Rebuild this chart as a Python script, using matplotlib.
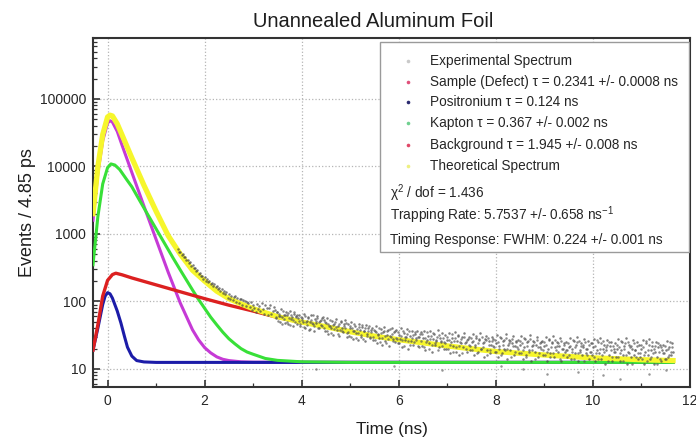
import numpy as np
import matplotlib
matplotlib.use("Agg")
import matplotlib.pyplot as plt
from matplotlib.ticker import FixedLocator, LogLocator, NullFormatter
from matplotlib.patches import Rectangle

plt.rcParams["font.family"] = ["Liberation Sans", "DejaVu Sans"]
plt.rcParams["mathtext.fontset"] = "custom"
plt.rcParams["mathtext.rm"] = "Liberation Sans"
plt.rcParams["mathtext.it"] = "Liberation Sans:italic"
plt.rcParams["mathtext.default"] = "regular"

## Fitted components (time in ns, events per 4.85 ps bin)
sample_t = [-0.3, -0.2, -0.1, 0.0, 0.05, 0.1, 0.2, 0.3, 0.5, 0.75, 1.0, 1.25, 1.5, 1.75, 1.875,
            2.0, 2.125, 2.25, 2.375, 2.5, 2.75, 3.0, 11.65]
sample_v = [1600, 8000, 24000, 44000, 47600, 45500, 33000, 20500, 8160, 2580, 830, 270, 94, 38, 27,
            20.7, 17.3, 15.1, 13.9, 13.3, 12.75, 12.6, 12.5]

posi_t = [-0.3, -0.2, -0.1, -0.05, 0.0, 0.05, 0.1, 0.2, 0.275, 0.35, 0.41, 0.5, 0.6, 0.75, 1.0, 11.65]
posi_v = [19, 40, 90, 120, 135, 130, 112, 72, 48, 30, 21, 15.5, 13.3, 12.7, 12.5, 12.5]

kapton_t = [-0.3, -0.2, -0.1, 0.0, 0.07, 0.15, 0.25, 0.4, 0.5, 0.66, 0.8, 1.0, 1.2, 1.35, 1.5,
            1.75, 1.86, 2.0, 2.125, 2.25, 2.375, 2.5, 2.625, 2.75, 2.875, 3.0, 3.25, 3.5, 4.0, 5.0, 11.65]
kapton_v = [350, 1800, 5500, 9600, 10900, 10500, 9000, 6300, 5000, 3140, 2100, 1190, 674, 440, 291,
            148, 111, 79, 58.5, 45, 35, 28, 23.5, 20, 17.8, 16.5, 14.3, 13.4, 12.75, 12.5, 12.5]

bg_t = [-0.3, -0.2, -0.1, 0.0, 0.1, 0.17, 0.3, 0.5, 1.0, 1.5, 2.0, 2.5, 3.0, 3.5, 4.0, 4.5,
        5.0, 5.5, 6.0, 7.0, 8.0, 9.0, 10.0, 11.0, 11.65]
bg_v = [19, 45, 120, 205, 250, 262, 248, 223, 176, 139, 110, 88, 72, 58, 49, 42,
        35.5, 30.5, 27, 21.8, 18, 16, 14.5, 13.7, 13.3]

theo_t = [-0.3, -0.2, -0.1, 0.0, 0.05, 0.1, 0.2, 0.3, 0.5, 0.75, 1.0, 1.25, 1.5, 1.75, 2.0,
          2.25, 2.5, 2.75, 3.0, 3.5, 4.0, 4.5, 5.0, 5.5, 6.0, 7.0, 8.0, 9.0, 10.0, 11.0, 11.65]
theo_v = [2000, 9900, 29700, 54000, 57500, 56000, 42800, 29100, 13400, 5250, 2170, 940, 500, 290, 200,
          142, 110, 92, 78, 59.5, 49.5, 42.2, 35.6, 30.6, 27.1, 21.9, 18.1, 16.1, 14.6, 13.7, 13.3]

## Measured spectrum: two interleaved runs of 0.025 ns steps
exp_start_a = 1.45
exp_start_b = 3.4625
exp_step = 0.025
exp_counts_a = [
    600, 540, 545, 490, 500, 450, 455, 410, 415, 375, 380, 340, 345, 310, 315, 282, 288, 258, 262, 236,
    242, 216, 228, 204, 214, 192, 203, 181, 190, 171, 180, 161, 170, 152, 160, 143, 151, 135, 142, 128,
    138, 114, 127, 109, 122, 104, 118, 121, 99, 113, 96, 110, 107, 89, 104, 101, 86, 98, 94, 82,
    97, 74, 88, 80, 69, 92, 78, 85, 71, 94, 76, 66, 88, 81, 63, 79, 90, 65, 72, 84,
    75, 56, 69, 61, 50, 78, 58, 64, 48, 70, 62, 46, 72, 55, 59, 44, 66, 61, 47, 57,
    62, 43, 56, 49, 65, 40, 52, 58, 38, 50, 63, 46, 37, 55, 48, 60, 41, 51, 45, 57,
    53, 37, 48, 56, 33, 44, 40, 51, 32, 46, 55, 38, 43, 31, 50, 40, 35, 46, 53, 30,
    46, 31, 41, 49, 28, 37, 44, 34, 27, 47, 38, 30, 42, 36, 26, 45, 33, 40, 29, 38,
    41, 27, 36, 44, 24, 33, 29, 39, 23, 35, 42, 26, 32, 38, 22, 31, 40, 28, 35, 25,
    38, 24, 32, 28, 40, 21, 34, 27, 30, 39, 20, 31, 26, 36, 23, 33, 29, 37, 22, 30,
    35, 22, 29, 37, 19, 27, 31, 24, 36, 18, 28, 33, 23, 26, 38, 21, 29, 25, 34, 20,
    32, 20, 27, 34, 17, 25, 29, 22, 35, 18, 26, 31, 16, 24, 30, 21, 34, 25, 18, 28,
    30, 19, 25, 33, 16, 23, 29, 18, 27, 34, 20, 24, 15, 28, 31, 19, 26, 17, 23, 30,
    28, 18, 24, 32, 15, 22, 29, 17, 26, 20, 33, 14, 23, 27, 19, 24, 31, 16, 22, 26,
    27, 17, 23, 31, 14, 21, 28, 16, 25, 19, 32, 13, 22, 26, 18, 23, 30, 15, 21, 25,
    26, 16, 22, 30, 13, 20, 27, 17, 24, 31, 15, 21, 25, 18, 22, 29, 13, 20, 24, 18,
    25, 15, 21, 29, 14, 20, 26, 17, 23, 30, 13, 19, 24, 16, 21, 28, 17, 20, 26, 14,
    24, 16, 21, 28, 13, 19, 25, 17, 29, 14, 20, 23, 12, 19, 27, 16, 22, 25, 13, 20,
    24, 15, 20, 28, 13, 19, 25, 16, 22, 29, 12, 18, 23, 15, 20, 27, 16, 19, 25, 14,
    23, 15, 20, 27, 12, 18, 24, 16, 28, 14, 19, 22, 12, 18, 25, 15, 21, 23, 13, 19,
    23, 14, 19, 26, 15, 21, 16, 24, 18,
]
exp_counts_b = [
    58, 70, 52, 66, 61, 47, 73, 55, 63, 50, 68, 57, 45, 64, 53, 70, 49, 58, 62, 51,
    47, 59, 53, 42, 61, 50, 45, 56, 39, 54, 48, 62, 44, 51, 57, 40, 49, 53, 43, 58,
    41, 50, 36, 47, 43, 54, 34, 45, 39, 49, 42, 33, 47, 38, 52, 36, 43, 40, 48, 34,
    35, 44, 30, 40, 37, 47, 29, 39, 34, 42, 32, 45, 28, 37, 41, 31, 36, 43, 30, 35,
    30, 38, 27, 35, 32, 41, 25, 34, 29, 37, 31, 24, 36, 28, 39, 30, 33, 26, 37, 29,
    28, 35, 24, 31, 27, 37, 22, 30, 33, 26, 36, 23, 29, 32, 25, 35, 27, 30, 21, 33,
    26, 33, 21, 29, 25, 35, 20, 28, 31, 23, 34, 24, 27, 30, 19, 32, 26, 22, 29, 25,
    24, 30, 20, 27, 23, 33, 18, 26, 29, 21, 32, 22, 25, 28, 17, 30, 24, 20, 27, 23,
    22, 29, 19, 26, 21, 31, 17, 24, 28, 20, 30, 21, 25, 27, 16, 29, 23, 19, 26, 22,
    21, 27, 18, 25, 20, 30, 16, 23, 27, 19, 29, 20, 24, 26, 15, 28, 22, 18, 25, 21,
    20, 26, 17, 24, 19, 29, 15, 22, 26, 18, 28, 19, 23, 25, 14, 27, 21, 17, 24, 20,
    19, 25, 16, 23, 18, 28, 15, 21, 25, 17, 27, 19, 22, 24, 14, 26, 20, 16, 23, 19,
    19, 24, 16, 22, 18, 27, 14, 21, 25, 17, 26, 18, 22, 23, 13, 25, 20, 16, 23, 18,
    18, 24, 15, 22, 17, 27, 14, 20, 24, 16, 26, 18, 21, 23, 13, 25, 19, 15, 22, 18,
    18, 23, 15, 21, 17, 26, 13, 20, 24, 16, 25, 17, 21, 22, 12, 24, 19, 15, 22, 17,
    17, 23, 14, 21, 16, 26, 13, 19, 23, 15, 25, 17, 20, 22, 12, 24, 18, 14, 21, 17,
    17, 22, 14, 20, 16, 25, 18, 21,
]
# a few low bins below the flat background
exp_low_t = [4.3, 5.9, 6.9, 8.1, 8.55, 9.05, 9.7, 10.2, 10.55, 11.15, 11.5]
exp_low_v = [10, 11, 9.5, 11, 10, 8.5, 9, 8, 7, 8.5, 9.5]

x_ticks = [0, 2, 4, 6, 8, 10, 12]
y_ticks = [10, 100, 1000, 10000, 100000]
y_tick_labels = ["10", "100", "1000", "10000", "100000"]

legend_rows = [
    ("Experimental Spectrum", "#c9c9c9"),
    ("Sample (Defect) τ = 0.2341 +/- 0.0008 ns", "#e0507a"),
    ("Positronium τ = 0.124 ns", "#2a2a70"),
    ("Kapton τ = 0.367 +/- 0.002 ns", "#70d090"),
    ("Background τ = 1.945 +/- 0.008 ns", "#e04868"),
    ("Theoretical Spectrum", "#eef080"),
]
fit_lines = ["χ$^{2}$ / dof = 1.436",
             "Trapping Rate: 5.7537 +/- 0.658 ns$^{-1}$",
             "Timing Response: FWHM: 0.224 +/- 0.001 ns"]

## Figure
fig = plt.figure(figsize=(6.96, 4.40), dpi=100)
ax = fig.add_axes([93 / 696, 53 / 440, 597 / 696, 349 / 440])

ax.set_yscale("log")
ax.set_xlim(-0.3, 12)
ax.set_ylim(5.4, 8e5)

ax.plot(sample_t, sample_v, color="#c63ad6", lw=2.2, zorder=3)
ax.plot(posi_t, posi_v, color="#1c1ca8", lw=2.2, zorder=4)
ax.plot(kapton_t, kapton_v, color="#38e038", lw=2.2, zorder=5)
ax.plot(bg_t, bg_v, color="#dc2020", lw=2.4, zorder=6)
ax.plot(theo_t, theo_v, color="#f6f62c", lw=3.8, zorder=7)

exp_ta = exp_start_a + exp_step * np.arange(len(exp_counts_a))
exp_tb = exp_start_b + exp_step * np.arange(len(exp_counts_b))
dot = dict(ls="none", marker="o", ms=1.8, mew=0, alpha=0.7, zorder=8)
ax.plot(exp_ta, exp_counts_a, color="#474747", **dot)
ax.plot(exp_tb, exp_counts_b, color="#5a5a5a", **dot)
ax.plot(exp_low_t, exp_low_v, color="#6a6a6a", **dot)

# axes, ticks, grid
ax.xaxis.set_major_locator(FixedLocator(x_ticks))
ax.xaxis.set_minor_locator(FixedLocator([1, 3, 5, 7, 9, 11]))
ax.set_xticklabels([str(t) for t in x_ticks])
ax.yaxis.set_major_locator(FixedLocator(y_ticks))
ax.set_yticklabels(y_tick_labels)
ax.yaxis.set_minor_locator(LogLocator(base=10, subs=np.arange(2, 10), numticks=20))
ax.yaxis.set_minor_formatter(NullFormatter())
ax.tick_params(which="major", direction="in", length=5, width=1.2, color="#333333",
               labelsize=10, labelcolor="#262626", pad=5, top=False, right=False)
ax.tick_params(which="minor", direction="in", length=3, width=0.9, color="#333333",
               top=False, right=False)
ax.grid(True, which="major", ls=":", lw=0.9, color="#b5b5b5", zorder=0)
for s in ax.spines.values():
    s.set_color("#333333")
    s.set_linewidth(1.5)

ax.set_title("Unannealed Aluminum Foil", fontsize=14.5, color="#1e1e1e", pad=8, x=0.469)
ax.set_xlabel("Time (ns)", fontsize=12.3, color="#1e1e1e", labelpad=10)
ax.set_ylabel("Events / 4.85 ps", fontsize=13, color="#1e1e1e", labelpad=3)

# legend box with the fit results
box = Rectangle((0.481, 0.387), 0.517, 0.602, transform=ax.transAxes, facecolor="white",
                edgecolor="#9a9a9a", lw=1.0, zorder=20)
ax.add_patch(box)
row_y = [0.935, 0.875, 0.8175, 0.7556, 0.6934, 0.6332]
for (label, c), y in zip(legend_rows, row_y):
    ax.plot([0.5276], [y], transform=ax.transAxes, ls="none", marker="o", ms=2.6, mew=0,
            color=c, zorder=21, clip_on=False)
    ax.text(0.5645, y, label, transform=ax.transAxes, fontsize=9.8, color="#262626",
            va="center", ha="left", zorder=21)
for label, y in zip(fit_lines, [0.5559, 0.4928, 0.4212]):
    ax.text(0.4975, y, label, transform=ax.transAxes, fontsize=9.8, color="#262626",
            va="center", ha="left", zorder=21)

fig.savefig("out.png", dpi=100)
